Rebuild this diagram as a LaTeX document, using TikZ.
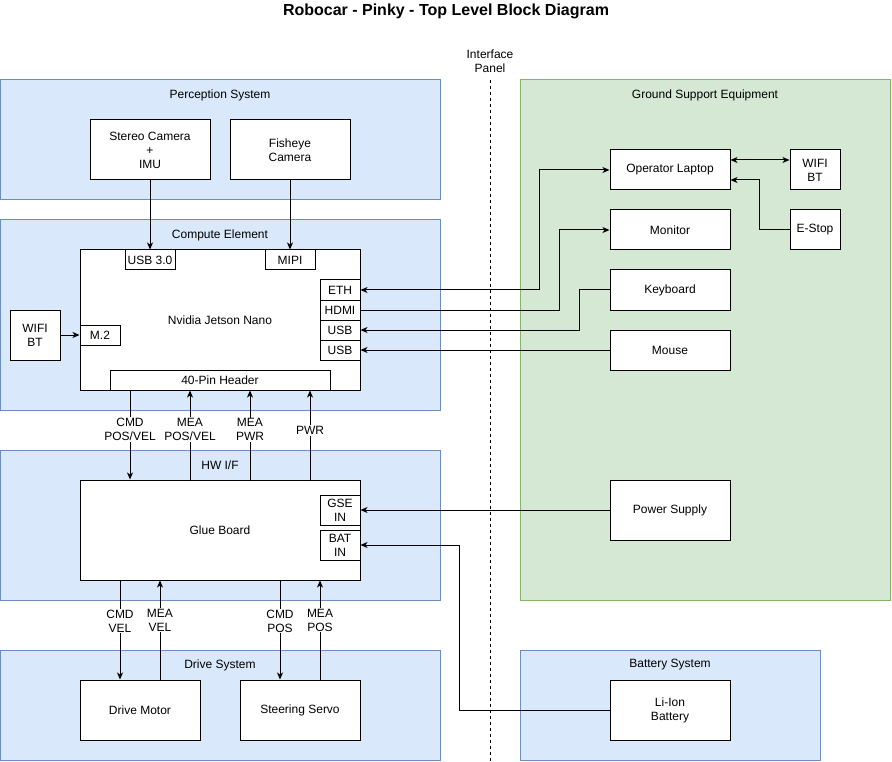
\documentclass[tikz,border=0pt]{standalone}
\usepackage{fontspec}
\setmainfont{Liberation Sans}
\usetikzlibrary{arrows.meta}

\definecolor{grpblue}{HTML}{DAE8FC}
\definecolor{grpblueline}{HTML}{6C8EBF}
\definecolor{grpgreen}{HTML}{D5E8D4}
\definecolor{grpgreenline}{HTML}{82B366}

\begin{document}
\begin{tikzpicture}[x=1pt, y=-1pt, line width=1pt,
  >={Stealth[length=7pt,width=6pt,inset=2pt]},
  font=\fontsize{12}{14}\selectfont,
  group/.style 2 args={draw=grpblueline, fill=grpblue, minimum width=#1pt, minimum height=#2pt, inner sep=0pt},
  gsegroup/.style 2 args={draw=grpgreenline, fill=grpgreen, minimum width=#1pt, minimum height=#2pt, inner sep=0pt},
  blk/.style 2 args={draw, fill=white, minimum width=#1pt, minimum height=#2pt, inner sep=0pt, align=center},
  grptitle/.style={inner sep=0pt},
  lbl/.style={fill=white, inner sep=1pt, align=center}]

\useasboundingbox (0,0) rectangle (892,762);

% Title
\node[font=\fontsize{16}{19}\selectfont\bfseries] (title) at (446,11) {Robocar - Pinky - Top Level Block Diagram};

% --- Groups ---
\node[group={440}{120}] (perc) at (220,140) {};
\node[grptitle] (perctitle) at (220,95) {Perception System};
\node[group={440}{190}] (comp) at (220,315) {};
\node[grptitle] (comptitle) at (220,235) {Compute Element};
\node[group={440}{150}] (hwif) at (220,525) {};
\node[grptitle] (hwiftitle) at (220,465) {HW I/F};
\node[group={440}{110}] (drive) at (220,705) {};
\node[grptitle] (drivetitle) at (220,665) {Drive System};
\node[group={300}{110}] (batsys) at (670,705) {};
\node[grptitle] (batsystitle) at (670,665) {Battery System};
\node[gsegroup={370}{520}] (gse) at (705,340) {};
\node[grptitle] (gsetitle) at (705,95) {Ground Support Equipment};

% Interface panel
\node[align=center, inner sep=0pt] (iface) at (490,61) {Interface\\Panel};
\coordinate (ifacetop) at (490,80);
\coordinate (ifacebot) at (490,762);
\draw[dash pattern=on 3pt off 3pt] (ifacetop) -- (ifacebot);

% --- Perception ---
\node[blk={120}{60}] (stereo) at (150,150) {Stereo Camera\\+\\IMU};
\node[blk={120}{60}] (fisheye) at (290,150) {Fisheye\\Camera};

% --- Compute element ---
\node[blk={280}{140}] (jetson) at (220,320) {Nvidia Jetson Nano};
\node[blk={50}{20}] (usb3) at (150,260) {USB 3.0};
\node[blk={50}{20}] (mipi) at (290,260) {MIPI};
\node[blk={40}{20}] (eth) at (340,290) {ETH};
\node[blk={40}{20}] (hdmi) at (340,310) {HDMI};
\node[blk={40}{20}] (usba) at (340,330) {USB};
\node[blk={40}{20}] (usbb) at (340,350) {USB};
\node[blk={40}{20}] (m2) at (100,335) {M.2};
\node[blk={220}{20}] (hdr) at (220,380) {40-Pin Header};
\node[blk={50}{50}] (wifi) at (35,335) {WIFI\\BT};

% --- HW I/F ---
\node[blk={280}{100}] (glue) at (220,530) {Glue Board};
\node[blk={40}{30}] (gsein) at (340,510) {GSE\\IN};
\node[blk={40}{30}] (batin) at (340,545) {BAT\\IN};

% --- Drive / battery ---
\node[blk={120}{60}] (motor) at (140,710) {Drive Motor};
\node[blk={120}{60}] (servo) at (300,710) {Steering Servo};
\node[blk={120}{60}] (battery) at (670,710) {Li-Ion\\Battery};

% --- Ground support equipment ---
\node[blk={120}{40}] (laptop) at (670,170) {Operator Laptop};
\node[blk={50}{40}] (wifigse) at (815,170) {WIFI\\BT};
\node[blk={50}{40}] (estop) at (815,230) {E-Stop};
\node[blk={120}{40}] (monitor) at (670,230) {Monitor};
\node[blk={120}{40}] (keyboard) at (670,290) {Keyboard};
\node[blk={120}{40}] (mouse) at (670,350) {Mouse};
\node[blk={120}{60}] (power) at (670,510) {Power Supply};

% --- Connectors ---
\draw[->] (stereo.south) -- (usb3.north);
\draw[->] (fisheye.south) -- (mipi.north);
\draw[->] (wifi.east) -- (m2.west);

\draw[<->] (laptop.west) -- ++(-70,0) |- (eth.east);
\draw[<-] (monitor.west) -- ++(-50,0) |- (hdmi.east);
\draw[->] (keyboard.west) -- ++(-30,0) |- (usba.east);
\draw[->] (mouse.west) -- (usbb.east);
\draw[<->] ([yshift=10pt]laptop.east) -- ([yshift=10pt]wifigse.west);
\draw[->] (estop.west) -- ++(-30,0) |- ([yshift=-10pt]laptop.east);

\draw[->] ([xshift=-90pt]hdr.south) -- ([xshift=-90pt]glue.north) node[lbl, pos=0.44] {CMD\\POS/VEL};
\draw[->] ([xshift=-30pt]glue.north) -- ([xshift=-30pt]hdr.south) node[lbl, pos=0.56] {MEA\\POS/VEL};
\draw[->] ([xshift=30pt]glue.north) -- ([xshift=30pt]hdr.south) node[lbl, pos=0.56] {MEA\\PWR};
\draw[->] ([xshift=90pt]glue.north) -- ([xshift=90pt]hdr.south) node[lbl, pos=0.55] {PWR};

\draw[->] ([xshift=-100pt]glue.south) -- ([xshift=-20pt]motor.north) node[lbl, pos=0.41] {CMD\\VEL};
\draw[->] ([xshift=20pt]motor.north) -- ([xshift=-60pt]glue.south) node[lbl, pos=0.6] {MEA\\VEL};
\draw[->] ([xshift=60pt]glue.south) -- ([xshift=-20pt]servo.north) node[lbl, pos=0.41] {CMD\\POS};
\draw[->] ([xshift=20pt]servo.north) -- ([xshift=100pt]glue.south) node[lbl, pos=0.6] {MEA\\POS};

\draw[->] (power.west) -- (gsein.east);
\draw[->] (battery.west) -- ++(-150,0) |- (batin.east);

\end{tikzpicture}
\end{document}
